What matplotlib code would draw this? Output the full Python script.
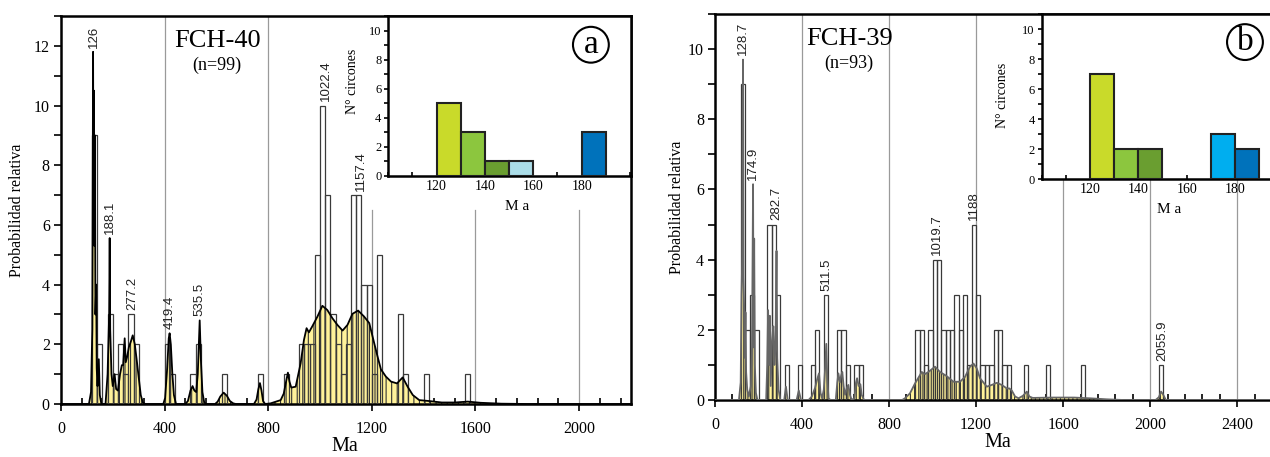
import matplotlib
matplotlib.use("Agg")
from matplotlib import pyplot as plt
from matplotlib.ticker import MultipleLocator

plt.rcParams['font.family'] = 'serif'
plt.rcParams['font.serif'] = ['Liberation Serif', 'DejaVu Serif']
plt.rcParams['hatch.linewidth'] = 0.8

# ---- FCH-40 (a) ----
left_bin_start = [120, 140, 180, 200, 220, 240, 260, 280, 400, 420, 500, 520, 620, 760, 860,
                  920, 940, 960, 980, 1000, 1020, 1040, 1060, 1080, 1100, 1120, 1140, 1160,
                  1180, 1200, 1220, 1300, 1320, 1400, 1560]
left_counts = [9, 2, 3, 1, 2, 1, 3, 2, 2, 1, 1, 2, 1, 1, 1,
               2, 2, 2, 5, 10, 7, 3, 2, 1, 2, 7, 7, 4,
               4, 1, 5, 3, 1, 1, 1]
left_curve = [(0, 0), (108, 0), (116, 0.4), (121, 2.5), (124, 11.8), (125.5, 6), (127, 10.5),
              (129, 5.3), (131, 9), (133, 3), (136, 4.0), (138, 1.2), (141, 0.6), (146, 1.5),
              (150, 0.3), (156, 0), (172, 0), (180, 1.0), (186, 3), (188.1, 5.56), (190, 2.5),
              (195, 1.0), (200, 0.6), (207, 1.0), (213, 0.5), (220, 0.45), (228, 1.0), (235, 1.3),
              (240, 1.3), (246, 2.2), (250, 1.4), (256, 1.6), (262, 1.9), (270, 2.1), (277, 2.3),
              (285, 2.0), (292, 1.5), (300, 0.9), (308, 0.3), (316, 0.05), (325, 0),
              (395, 0), (402, 0.2), (410, 1.2), (416, 2.2), (419.4, 2.37), (424, 2.0), (430, 1.0),
              (436, 0.3), (444, 0),
              (480, 0), (490, 0.1), (500, 0.45), (508, 0.6), (515, 0.45), (522, 0.4), (528, 1.0),
              (535.5, 2.8), (540, 1.5), (546, 0.4), (553, 0.05), (560, 0),
              (595, 0), (605, 0.08), (615, 0.25), (628, 0.38), (640, 0.28), (652, 0.1), (665, 0.02),
              (675, 0),
              (745, 0), (755, 0.15), (762, 0.5), (768, 0.7), (774, 0.45), (780, 0.1), (788, 0),
              (809, 0.02), (848, 0.13), (860, 0.35), (870, 0.8), (876, 1.05), (882, 0.75),
              (889, 0.55), (906, 0.58), (925, 1.36), (938, 2.15), (948, 2.54), (957, 2.4),
              (970, 2.6), (990, 2.93), (1009, 3.29), (1028, 3.15), (1048, 2.87), (1067, 2.65),
              (1087, 2.46), (1106, 2.65), (1125, 3.02), (1147, 3.13), (1170, 2.93), (1190, 2.71),
              (1209, 2.04), (1222, 1.59), (1235, 1.16), (1254, 0.92), (1274, 0.75), (1297, 0.69),
              (1319, 0.89), (1338, 0.58), (1358, 0.3), (1383, 0.13), (1420, 0.1), (1470, 0.05),
              (1520, 0.05), (1570, 0.08), (1620, 0.04), (1700, 0.01), (1800, 0), (2200, 0)]
left_peaks = [126, 188.1, 277.2, 419.4, 535.5, 1022.4, 1157.4]
inset_a_start = [120, 130, 140, 150, 180]
inset_a_counts = [5, 3, 1, 1, 3]

# ---- FCH-39 (b) ----
right_bin_start = [120, 140, 160, 180, 240, 260, 280, 320, 380, 440, 460, 500, 560, 580, 600,
                   640, 660, 920, 940, 960, 980, 1000, 1020, 1040, 1060, 1080, 1100, 1120,
                   1140, 1160, 1180, 1200, 1220, 1240, 1260, 1280, 1300, 1320, 1340, 1420,
                   1520, 1680, 2040]
right_counts = [9, 2, 3, 2, 5, 5, 3, 1, 1, 1, 2, 3, 2, 2, 1,
                1, 1, 2, 2, 1, 2, 4, 4, 2, 2, 2, 3, 2,
                3, 1, 5, 3, 1, 1, 1, 2, 2, 1, 1, 1,
                1, 1, 1]
right_curve = [(0, 0), (110, 0), (118, 0.5), (122, 3), (125, 4.1), (128.7, 9.7), (131, 3.5),
               (134, 2.6), (137, 1.2), (140, 2.5), (143, 0.8), (148, 0.3), (155, 0.1), (165, 0.4),
               (170, 1.5), (174.9, 6.15), (177, 1.5), (180, 4.6), (183, 1.0), (188, 0.2), (195, 0),
               (235, 0), (240, 1.0), (244, 2.56), (248, 1.0), (252, 2.4), (256, 0.4), (262, 1.7),
               (268, 2.1), (273, 1.0), (278, 1.5), (282.7, 4.25), (286, 1.2), (292, 0.3), (300, 0),
               (318, 0), (326, 0.38), (334, 0), (375, 0), (385, 0.27), (395, 0), (430, 0),
               (445, 0.1), (460, 0.35), (470, 0.6), (478, 0.76), (485, 0.2), (492, 0.05),
               (500, 0.3), (506, 0.9), (511.5, 1.6), (516, 0.6), (522, 0.05), (530, 0),
               (555, 0), (562, 0.5), (567, 0.76), (574, 0.5), (580, 0.7), (585, 0.8), (591, 0.4),
               (598, 0.15), (606, 0.35), (613, 0.43), (620, 0.15), (628, 0), (640, 0.05),
               (648, 0.5), (653, 0.62), (660, 0.4), (668, 0.45), (674, 0.15), (685, 0),
               (860, 0), (873, 0.05), (896, 0.19), (919, 0.47), (942, 0.71), (950, 0.8),
               (965, 0.74), (981, 0.8), (1011, 0.95), (1034, 0.8), (1065, 0.68), (1096, 0.52),
               (1126, 0.52), (1149, 0.66), (1172, 0.95), (1188, 1.04), (1203, 0.9), (1218, 0.62),
               (1249, 0.38), (1272, 0.43), (1295, 0.49), (1318, 0.43), (1341, 0.33), (1353, 0.33),
               (1364, 0.27), (1379, 0.1), (1395, 0.05), (1415, 0.12), (1433, 0.24), (1445, 0.1),
               (1460, 0.06), (1550, 0.07), (1650, 0.07), (1720, 0.05), (1800, 0.02), (1880, 0),
               (2025, 0), (2040, 0.08), (2050, 0.24), (2060, 0.15), (2072, 0), (2560, 0)]
right_peaks = [128.7, 174.9, 282.7, 511.5, 1019.7, 1188, 2055.9]
inset_b_start = [120, 130, 140, 170, 180]
inset_b_counts = [7, 2, 2, 3, 2]

age_colors = {120: '#c9da2a', 130: '#8cc63e', 140: '#6a9e30', 150: '#abdde8',
              170: '#00aeef', 180: '#0072bb'}

YELLOW = '#fff29a'


def label_height(age, starts, counts, curve):
    h = max([y for x, y in curve if abs(x - age) <= 10] + [0])
    for s, c in zip(starts, counts):
        if s < age + 10 and s + 20 > age - 10:
            h = max(h, c)
    return h


def main_panel(ax, starts, counts, curve, peaks, xmax, ymax, xtick_max, line_color,
               hatch, title, n_text, title_x, short_grid):
    cx = [p[0] for p in curve]
    cy = [p[1] for p in curve]
    ax.fill_between(cx, cy, 0, facecolor=YELLOW, edgecolor='#333333', hatch=hatch,
                    linewidth=0, zorder=2)
    ax.bar(starts, counts, width=20, align='edge', fill=False, edgecolor='#3a3a3a',
           linewidth=0.9, zorder=3)
    ax.plot(cx, cy, color=line_color, lw=1.3, zorder=4)

    ax.set_xlim(0, xmax)
    ax.set_ylim(0, ymax)
    ax.set_xticks(range(0, xtick_max + 1, 400))
    ax.xaxis.set_minor_locator(MultipleLocator(80))
    ax.set_yticks(range(0, int(ymax), 2))
    ax.yaxis.set_minor_locator(MultipleLocator(1))
    ax.tick_params(axis='x', which='major', direction='out', length=5, width=1.2,
                   labelsize=11.5, pad=7)
    ax.tick_params(axis='x', which='minor', direction='in', length=4, width=1.2)
    ax.tick_params(axis='y', which='both', direction='out', length=5, width=1.2,
                   labelsize=11.5, pad=3)
    for sp in ax.spines.values():
        sp.set_linewidth(1.8)

    for x in ax.get_xticks()[1:]:
        top = short_grid if x >= 1200 and short_grid is not None else 1
        ax.axvline(x, ymax=top, color='#9a9a9a', lw=0.9, zorder=1)

    for p in peaks:
        h = label_height(p, starts, counts, curve)
        ax.annotate(f"{p:g}", (p, h), xytext=(0, 3), textcoords='offset points',
                    rotation=90, ha='center', va='bottom', fontsize=9.5,
                    family='Liberation Sans', color='#222222')

    ax.text(title_x, 0.935, title, transform=ax.transAxes, ha='center', va='center', fontsize=19)
    ax.text(title_x, 0.872, n_text, transform=ax.transAxes, ha='center', va='center', fontsize=13)
    ax.set_ylabel('Probabilidad relativa', fontsize=11.5)
    ax.set_xlabel('Ma', fontsize=14.5)


def inset_panel(ax, starts, counts, xmax, letter, ylab_pos, xlab_pos, circle_pos):
    ax.bar(starts, counts, width=10, align='edge', color=[age_colors[s] for s in starts],
           edgecolor='#222222', linewidth=1.5, zorder=3)
    ax.set_xlim(100, xmax)
    ax.set_ylim(0, 11)
    ax.set_xticks([120, 140, 160, 180])
    ax.xaxis.set_minor_locator(MultipleLocator(10))
    ax.set_yticks(range(0, 11, 2))
    ax.yaxis.set_minor_locator(MultipleLocator(1))
    ax.tick_params(axis='x', which='both', direction='in', length=3, width=1.2,
                   labelsize=10, pad=3)
    ax.tick_params(axis='y', which='both', direction='out', length=3, width=1.2,
                   labelsize=9, pad=2)
    for sp in ax.spines.values():
        sp.set_linewidth(1.8)
    ax.set_ylabel('N° circones', fontsize=10)
    ax.yaxis.set_label_coords(*ylab_pos)
    ax.set_xlabel('M a', fontsize=11)
    ax.xaxis.set_label_coords(*xlab_pos)
    ax.text(circle_pos[0], circle_pos[1], letter, transform=ax.transAxes, ha='center',
            va='center', fontsize=24,
            bbox=dict(boxstyle='circle,pad=0.08', facecolor='white', edgecolor='black', lw=1.5))


def main():
    fig = plt.figure(figsize=(12.7, 4.57), dpi=100)

    ax1 = fig.add_axes([0.0480, 0.1160, 0.4488, 0.8490])
    main_panel(ax1, left_bin_start, left_counts, left_curve, left_peaks, 2200, 13, 2000,
               'black', '|||', 'FCH-40', '(n=99)', 0.274, 0.5)
    ax1.yaxis.set_label_coords(-0.063, 0.5)
    ax1.xaxis.set_label_coords(0.498, -0.085)

    ax2 = fig.add_axes([0.5630, 0.1247, 0.4386, 0.8446])
    main_panel(ax2, right_bin_start, right_counts, right_curve, right_peaks, 2560, 11, 2400,
               '#666666', '||||', 'FCH-39', '(n=93)', 0.241, None)
    ax2.yaxis.set_label_coords(-0.054, 0.5)
    ax2.xaxis.set_label_coords(0.508, -0.086)

    in1 = fig.add_axes([0.3057, 0.6155, 0.1911, 0.3495])
    inset_panel(in1, inset_a_start, inset_a_counts, 200.4, 'a', (-0.12, 0.59), (0.53, -0.15),
                (0.835, 0.82))

    in2 = fig.add_axes([0.8202, 0.6077, 0.1813, 0.3617])
    inset_panel(in2, inset_b_start, inset_b_counts, 195.3, 'b', (-0.142, 0.51), (0.553, -0.143),
                (0.883, 0.83))

    fig.savefig('out.png', dpi=100)


if __name__ == '__main__':
    main()
